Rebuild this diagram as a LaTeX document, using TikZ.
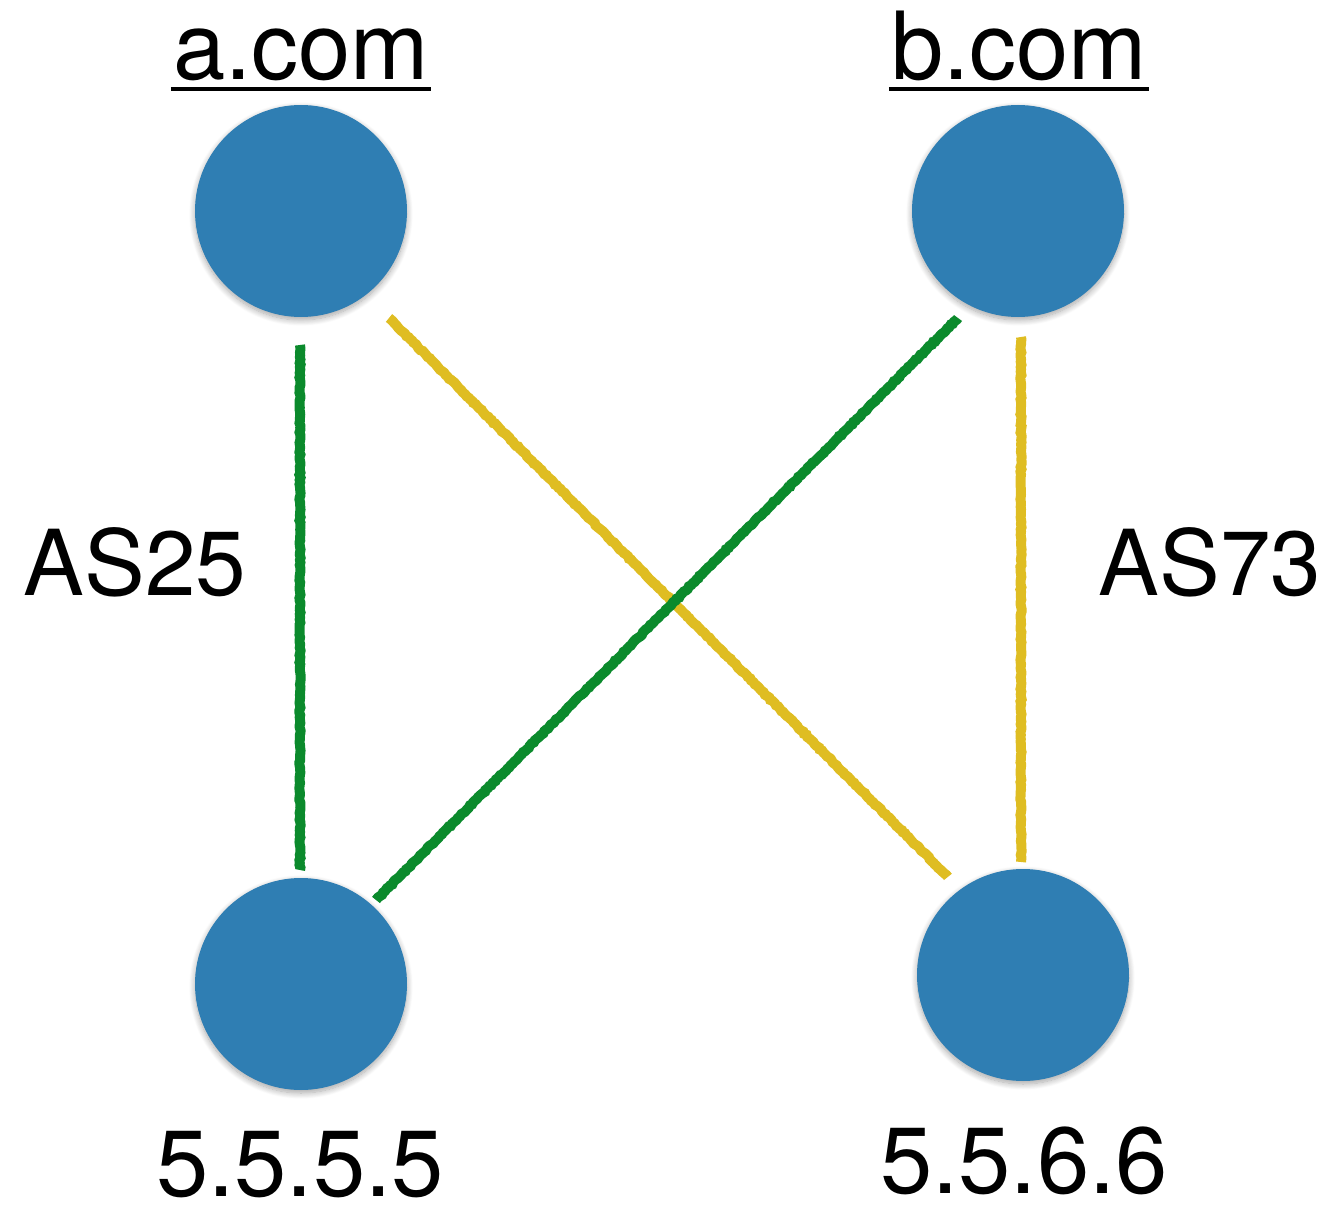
\documentclass[tikz,border=0pt]{standalone}
\usepackage{fontspec}
\setmainfont{TeX Gyre Heros}
\usetikzlibrary{shadows.blur,decorations.pathmorphing}
\definecolor{nodeblue}{HTML}{2F7EB3}
\definecolor{pathgreen}{HTML}{0B8A2C}
\definecolor{pathyellow}{HTML}{DFBD22}
\tikzset{
  host/.style={circle, fill=nodeblue, minimum size=212pt, inner sep=0pt,
    blur shadow={shadow xshift=0pt, shadow yshift=-3pt, shadow blur radius=6pt, shadow opacity=35, shadow blur steps=10}},
  bigtext/.style={font=\fontsize{94}{110}\selectfont, inner sep=0pt, anchor=base},
  astext/.style={font=\fontsize{91}{110}\selectfont, inner sep=0pt, anchor=base},
  chalk/.style={line width=10pt, line cap=butt,
    decorate, decoration={random steps, segment length=2.5pt, amplitude=0.6pt}},
}
\begin{document}
\begin{tikzpicture}[x=1pt,y=-1pt]
\useasboundingbox (0,0) rectangle (1334,1214);
\node[host] (a) at (301,211) {};
\node[host] (b) at (1018,211) {};
\node[host] (c) at (301,984) {};
\node[host] (d) at (1023,975) {};

\draw[chalk, pathgreen] ([shift={(-1,134)}]a.center) -- ([shift={(-1,-114)}]c.center);
\draw[chalk, pathyellow] ([shift={(88,107)}]a.center) -- ([shift={(-75,-98)}]d.center);
\draw[chalk, pathgreen] ([shift={(-60,107)}]b.center) -- ([shift={(75,-84)}]c.center);
\draw[chalk, pathyellow] ([shift={(3,126)}]b.center) -- ([shift={(-2,-113)}]d.center);

\node[bigtext] (ta) at (301,80) {a.com};
\node[bigtext] (tb) at (1019,80) {b.com};
\draw[line width=4pt] ([xshift=-2pt,yshift=-9pt]ta.base west) -- ([xshift=2pt,yshift=-9pt]ta.base east);
\draw[line width=4pt] ([xshift=-2pt,yshift=-9pt]tb.base west) -- ([xshift=2pt,yshift=-9pt]tb.base east);

\node[astext] (as25) at (135,595) {AS25};
\node[astext] (as73) at (1210,595) {AS73};

\node[bigtext] (tc) at (300,1196) {5.5.5.5};
\node[bigtext] (td) at (1024,1193) {5.5.6.6};
\end{tikzpicture}
\end{document}
